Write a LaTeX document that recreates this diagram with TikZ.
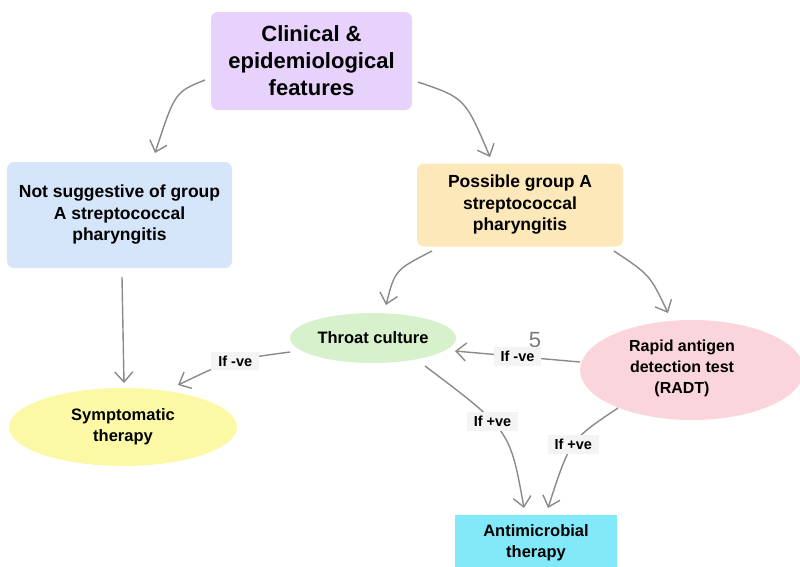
\documentclass[tikz,border=0pt]{standalone}
\usepackage{fontspec}
\setmainfont{Liberation Sans}
\usetikzlibrary{arrows.meta,shapes.geometric}
\definecolor{cpurple}{HTML}{E6D2FA}
\definecolor{cblue}{HTML}{D5E6FB}
\definecolor{cyellow}{HTML}{FCE8B8}
\definecolor{cgreen}{HTML}{D6F1CC}
\definecolor{cpink}{HTML}{FBD5DC}
\definecolor{clemon}{HTML}{FBF9A6}
\definecolor{ccyan}{HTML}{82E9F9}
\definecolor{carrow}{HTML}{8A8A8A}
\definecolor{clabel}{HTML}{F4F4F4}
\tikzset{
  box/.style={draw=none,rounded corners=7pt,align=center,font=\bfseries\fontsize{17.5}{21.5}\selectfont,inner sep=0pt},
  ell/.style={draw=none,ellipse,align=center,font=\bfseries\fontsize{16.5}{21}\selectfont,inner sep=0pt},
  arr/.style={draw=carrow,line width=1.4pt,-{Straight Barb[length=10pt,width=18pt,line width=1.4pt]}},
  lbl/.style={fill=clabel,font=\bfseries\fontsize{14.5}{16}\selectfont,inner xsep=7pt,inner ysep=4pt}
}
\begin{document}
\begin{tikzpicture}[x=1pt,y=-1pt]
\useasboundingbox (0,0) rectangle (800,566);
% nodes
\node[box,fill=cpurple,minimum width=201pt,minimum height=98pt,font=\bfseries\fontsize{22}{27}\selectfont] (top) at (311.5,61) {Clinical \&\\epidemiological\\features};
\node[box,fill=cblue,minimum width=225pt,minimum height=106pt] (notsug) at (119.5,215) {Not suggestive of group\\A streptococcal\\pharyngitis};
\node[box,fill=cyellow,minimum width=206pt,minimum height=83pt] (poss) at (520,205) {Possible group A\\streptococcal\\pharyngitis};
\node[ell,fill=cgreen,minimum width=166pt,minimum height=50pt] (throat) at (373,338) {Throat culture};
\node[ell,fill=cpink,minimum width=224pt,minimum height=100pt] (radt) at (692,370) {};
\node[font=\bfseries\fontsize{16}{21}\selectfont,align=center] (radtt) at (682,368) {Rapid antigen\\detection test\\(RADT)};
\node[ell,fill=clemon,minimum width=228pt,minimum height=78pt] (sympt) at (123,427) {Symptomatic\\therapy};
\node[box,rounded corners=0pt,fill=ccyan,minimum width=162pt,minimum height=56pt,font=\bfseries\fontsize{16.5}{21}\selectfont] (anti) at (536,543) {Antimicrobial\\therapy};
\node[text=carrow!90!black,font=\fontsize{22}{22}\selectfont] (five) at (535,340) {5};
% connectors
\coordinate (a1s) at (205,80); \coordinate (a1e) at (155,153);
\coordinate (a2s) at (418,82); \coordinate (a2e) at (490,157);
\draw[arr] (a1s) .. controls (175,92) .. (a1e);
\draw[arr] (a2s) .. controls (465,98) .. (a2e);
\draw[arr] (122,277) -- (124,383);
\draw[arr] (432,251) .. controls (395,270) .. (386,305);
\draw[arr] (614,251) .. controls (650,275) .. (668,313);
\draw[arr] (580,362) -- node[lbl,pos=0.5] (l1) {If -ve} (455,351);
\draw[arr] (290,352) .. controls (230,360) .. node[lbl,pos=0.45] (l2) {If -ve} (178,385);
\draw[arr] (425,366) .. controls (510,430) .. node[lbl,pos=0.4] (l3) {If +ve} (524,508);
\draw[arr] (618,408) .. controls (570,440) .. node[lbl,pos=0.5] (l4) {If +ve} (548,508);
\end{tikzpicture}
\end{document}
